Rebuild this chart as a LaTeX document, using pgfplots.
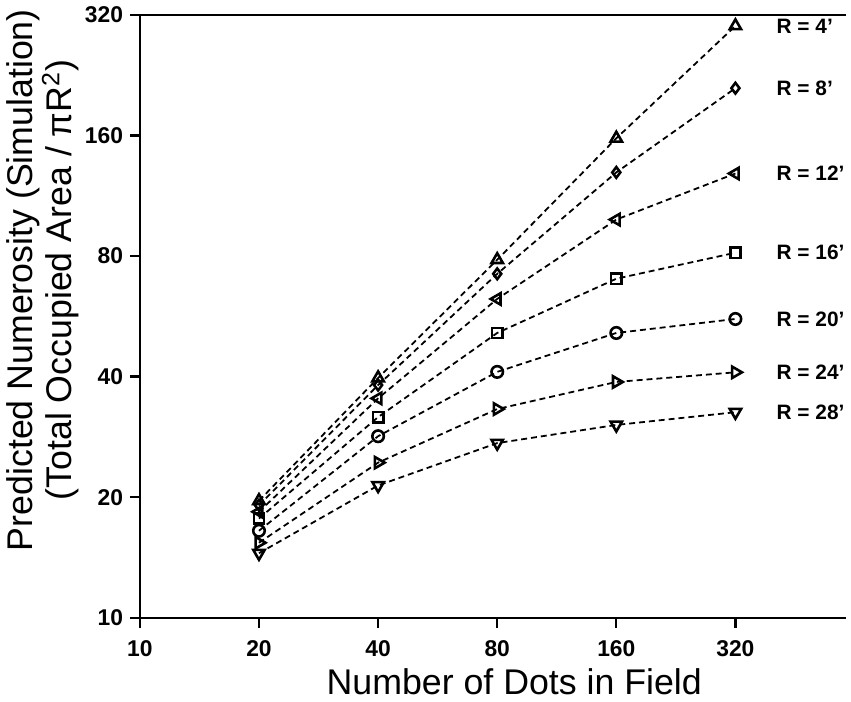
\documentclass[border=0pt]{standalone}
\usepackage{fontspec}
\setmainfont{Liberation Sans}
\usepackage{pgfplots}
\pgfplotsset{compat=1.18}
\tikzset{lbl/.style={anchor=west, xshift=17pt, font=\fontsize{10.5}{12}\selectfont\bfseries, black}}

\begin{document}
\begin{tikzpicture}
  \begin{axis}[
      scale only axis,
      width=356pt, height=304pt,
      xmode=log, ymode=log,
      log basis x=2, log basis y=2,
      xmin=10, xmax=610,
      ymin=10, ymax=320,
      axis x line=box, axis y line=left,
      axis line style={-, line width=1.2pt},
      xtick pos=left,
      tick align=outside,
      major tick length=5pt,
      tick style={line width=1.2pt, black},
      xtick={10,20,40,80,160,320},
      xticklabels={10,20,40,80,160,320},
      ytick={10,20,40,80,160,320},
      yticklabels={10,20,40,80,160,320},
      minor tick num=0,
      ticklabel style={font=\fontsize{11.5}{13}\selectfont\bfseries},
      xticklabel style={yshift=-3pt},
      xlabel={Number of Dots in Field},
      ylabel={Predicted Numerosity (Simulation)\\(Total Occupied Area / πR\textsuperscript{2})},
      label style={font=\fontsize{18}{18.5}\selectfont, align=center},
      xlabel style={at={(ticklabel cs:0.53)}, yshift=1pt},
      ylabel style={at={(ticklabel cs:0.56)}, yshift=-4pt},
      clip=false,
      every axis plot/.append style={black, line width=0.9pt, dash pattern=on 3pt off 2pt},
    ]
    % R = 4'
    \addplot[mark=triangle, mark size=3.3pt, mark options={solid, line width=1.3pt, fill=white}] coordinates {
      (20,19.6) (40,39.7) (80,78.3) (160,157.3) (320,300)
    } node[pos=1, lbl] {R = 4'};
    % R = 8'
    \addplot[mark=diamond, mark size=2.7pt, mark options={solid, line width=1.3pt, fill=white}] coordinates {
      (20,19.1) (40,38.1) (80,72.2) (160,129.3) (320,209.8)
    } node[pos=1, lbl] {R = 8'};
    % R = 12'
    \addplot[mark=triangle, mark size=3.3pt, mark options={solid, line width=1.3pt, fill=white, rotate=90}] coordinates {
      (20,18.4) (40,35.3) (80,62.5) (160,98.6) (320,128.5)
    } node[pos=1, lbl] {R = 12'};
    % R = 16'
    \addplot[mark=square, mark size=2.6pt, mark options={solid, line width=1.3pt, fill=white}] coordinates {
      (20,17.7) (40,31.7) (80,51.4) (160,70.2) (320,81.5)
    } node[pos=1, lbl] {R = 16'};
    % R = 20'
    \addplot[mark=o, mark size=2.9pt, mark options={solid, line width=1.3pt, fill=white}] coordinates {
      (20,16.5) (40,28.4) (80,41.1) (160,51.4) (320,55.7)
    } node[pos=1, lbl] {R = 20'};
    % R = 24'
    \addplot[mark=triangle, mark size=3.3pt, mark options={solid, line width=1.3pt, fill=white, rotate=-90}] coordinates {
      (20,15.4) (40,24.4) (80,33.2) (160,38.8) (320,41.0)
    } node[pos=1, lbl] {R = 24'};
    % R = 28'
    \addplot[mark=triangle, mark size=3.3pt, mark options={solid, line width=1.3pt, fill=white, rotate=180}] coordinates {
      (20,14.5) (40,21.4) (80,27.3) (160,30.3) (320,32.6)
    } node[pos=1, lbl] {R = 28'};
  \end{axis}
\end{tikzpicture}
\end{document}
